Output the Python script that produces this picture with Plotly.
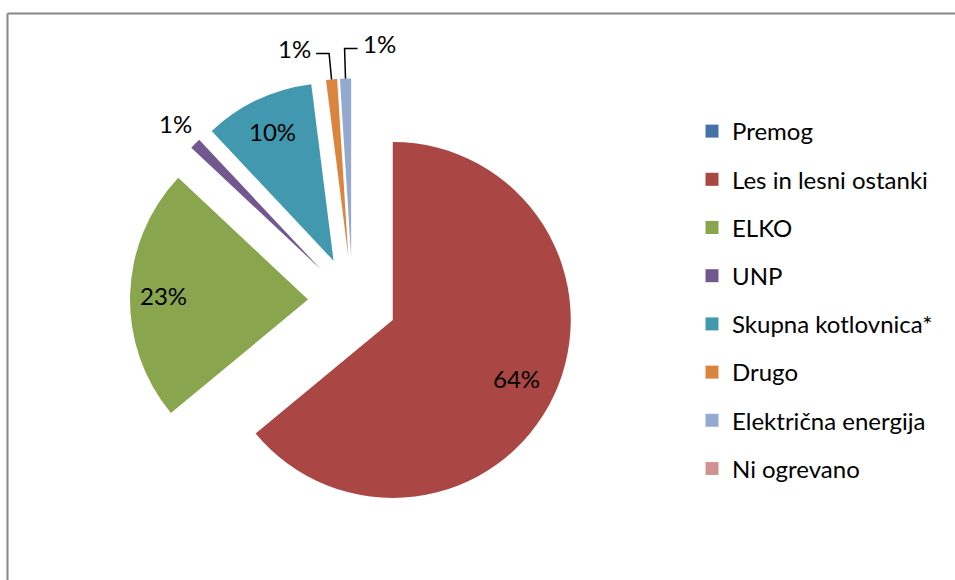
import math
import plotly.graph_objects as go

# Heating source shares (%)
labels = ["Premog", "Les in lesni ostanki", "ELKO", "UNP",
          "Skupna kotlovnica*", "Drugo", "Električna energija", "Ni ogrevano"]
shares = [0, 64, 23, 1, 10, 1, 1, 0]
colors = ["#4572A7", "#AA4643", "#89A54E", "#71588F",
          "#4198AF", "#DB843D", "#93A9CF", "#D19392"]

# data-label placement per slice: ("in"/"out", radial fraction),
# ("left"/"right", leader length in px) or None for empty slices
label_place = [None, ("in", 0.77), ("in", 0.81), ("out", 1.16), ("in", 0.80),
               ("left", 26), ("right", 30), None]

W, H = 955, 580
FONT = "Lato, 'Open Sans', sans-serif"
FS = 24
PULL = 0.25
CX, CY, R = 352.5, 301.0, 178.0   # pie centre and radius (px)
HALF = R * (1 + PULL)


def to_paper(x, y):
    return x / W, 1 - y / H


fig = go.Figure()

fig.add_trace(go.Pie(
    labels=labels, values=shares, sort=False, direction="clockwise",
    rotation=0, pull=PULL,
    marker=dict(colors=colors, line=dict(width=0)),
    textinfo="none", hoverinfo="label+percent", showlegend=False,
    domain=dict(x=[(CX - HALF) / W, (CX + HALF) / W],
                y=[1 - (CY + HALF) / H, 1 - (CY - HALF) / H]),
))

# legend entries (one group per category so the row spacing can be set)
for lab, col in zip(labels, colors):
    fig.add_trace(go.Scatter(
        x=[None], y=[None], mode="markers", name=lab, legendgroup=lab,
        marker=dict(symbol="square", size=13, color=col, line=dict(width=0)),
        hoverinfo="skip",
    ))

# data labels, positioned from each slice's angle
total = sum(shares)
cum = 0.0
for v, place in zip(shares, label_place):
    a0 = cum / total * 2 * math.pi
    cum += v
    a1 = cum / total * 2 * math.pi
    if place is None or v == 0:
        continue
    mid = (a0 + a1) / 2
    dx, dy = math.sin(mid), -math.cos(mid)
    ox, oy = CX + PULL * R * dx, CY + PULL * R * dy      # apex of pulled slice
    text = f"{round(v / total * 100)}%"
    kind, amt = place
    font = dict(family=FONT, size=FS, color="#000000")
    if kind in ("in", "out"):
        x, y = to_paper(ox + amt * R * dx, oy + amt * R * dy)
        fig.add_annotation(x=x, y=y, xref="paper", yref="paper", text=text,
                           showarrow=False, xanchor="center", yanchor="middle",
                           font=font)
    else:
        ex, ey = ox + R * dx, oy + R * dy                 # outer edge
        bx, by = ex + amt * dx, ey + amt * dy             # elbow
        sgn = -1 if kind == "left" else 1
        tx = bx + sgn * 13
        pts = [to_paper(ex, ey), to_paper(bx, by), to_paper(tx, by)]
        path = "M {} {} L {} {} L {} {}".format(*[c for p in pts for c in p])
        fig.add_shape(type="path", path=path, xref="paper", yref="paper",
                      line=dict(color="#000000", width=1.5))
        lx, ly = to_paper(tx + sgn * 3, by - 5)
        fig.add_annotation(x=lx, y=ly, xref="paper", yref="paper", text=text,
                           showarrow=False,
                           xanchor="right" if sgn < 0 else "left",
                           yanchor="middle", font=font)

# chart frame (left and top edges)
fx0, fy0 = to_paper(7.5, 13.5)
fig.add_shape(type="line", xref="paper", yref="paper",
              x0=fx0, y0=fy0, x1=fx0, y1=0,
              line=dict(color="#878787", width=2))
fig.add_shape(type="line", xref="paper", yref="paper",
              x0=fx0, y0=fy0, x1=1, y1=fy0,
              line=dict(color="#878787", width=2))

lx, ly = to_paper(692, 109)
fig.update_layout(
    width=W, height=H, margin=dict(l=0, r=0, t=0, b=0),
    paper_bgcolor="#ffffff", plot_bgcolor="#ffffff",
    xaxis=dict(visible=False), yaxis=dict(visible=False),
    showlegend=True,
    legend=dict(x=lx, y=ly, xanchor="left", yanchor="top",
                tracegroupgap=14.0, traceorder="grouped",
                font=dict(family=FONT, size=FS, color="#000000"),
                bgcolor="rgba(0,0,0,0)"),
    font=dict(family=FONT, size=FS, color="#000000"),
)

fig.write_html("out.html")
